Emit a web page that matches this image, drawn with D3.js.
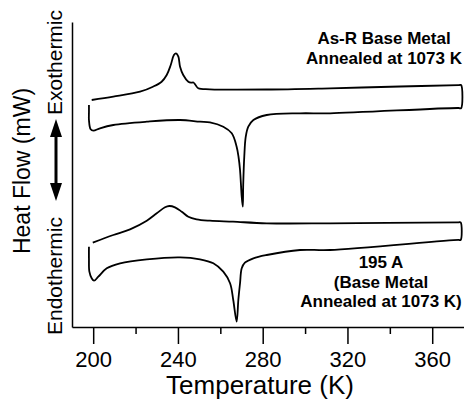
<!DOCTYPE html>
<html>
<head>
<meta charset="utf-8">
<script src="https://cdn.jsdelivr.net/npm/d3@7"></script>
<style>
  body { margin: 0; background: #fff; }
  text { font-family: "Liberation Sans", Arial, sans-serif; fill: #000; }
</style>
</head>
<body>
<div id="chart"></div>
<script>
// DSC traces, [temperature (K), heat flow (a.u., shifted)]
// As-R base metal annealed at 1073 K : upper branch (exo peak), then lower branch (endo dip)
const asrUpper = [
  [199.3, 22.7], [209.5, 23.03], [222.1, 23.53], [228.2, 24.03], [232.3, 24.53],
  [234.7, 25.2], [236.6, 26.2], [238.1, 27.2], [239.1, 27.37], [240.2, 27.03],
  [241.0, 26.03], [242.5, 25.2], [244.9, 24.53], [246.2, 24.43], [247.3, 24.45],
  [248.3, 24.2], [249.6, 23.87], [255.1, 23.77], [281.9, 23.75], [311.8, 23.87],
  [344.8, 24.05], [372.5, 24.19], [373.6, 24.2]
];
const asrLower = [
  [373.6, 21.87], [372.5, 21.9], [311.8, 21.37], [297.6, 21.37], [281.9, 21.2],
  [275.6, 20.7], [273.2, 20.03], [272.0, 19.03], [271.3, 17.03], [270.8, 14.2],
  [270.6, 12.03], [270.1, 13.03], [269.3, 15.7], [268.6, 17.0], [267.7, 18.03],
  [265.4, 19.37], [261.4, 20.03], [255.1, 20.47], [250.4, 20.53], [241.0, 20.7],
  [225.3, 20.53], [209.5, 20.2], [203.2, 19.87], [200.1, 19.63], [198.8, 19.77],
  [198.0, 20.7], [198.0, 21.5], [198.0, 22.2]
];
// 195 A (base metal annealed at 1073 K)
const a195Upper = [
  [199.8, 8.43], [209.5, 9.2], [217.4, 9.77], [225.3, 10.63], [230.0, 11.37],
  [233.9, 11.97], [235.9, 12.1], [238.6, 11.97], [241.8, 11.53], [244.9, 11.03],
  [248.8, 10.77], [255.1, 10.63], [266.0, 10.53], [281.9, 10.37], [311.8, 10.37],
  [372.4, 10.47], [373.4, 10.47]
];
const a195Lower = [
  [373.4, 8.7], [372.4, 8.72], [311.8, 7.7], [297.6, 7.7], [281.9, 7.2],
  [275.6, 6.87], [271.6, 6.43], [270.1, 5.87], [269.3, 4.37], [268.5, 2.7],
  [267.7, 0.53], [266.1, 2.7], [264.6, 4.37], [261.4, 5.53], [256.7, 6.37],
  [250.4, 6.77], [241.0, 6.97], [225.3, 6.77], [212.7, 6.37], [206.4, 5.87],
  [202.4, 5.03], [200.4, 4.63], [199.3, 4.87], [198.2, 5.53], [198.0, 6.8], [198.0, 8.03]
];

const xTicks = [200, 240, 280, 320, 360];
const xMinorTicks = [220, 260, 300, 340];
const labelAsr = ["As-R Base Metal", "Annealed at 1073 K"];
const label195 = ["195 A", "(Base Metal", "Annealed at 1073 K)"];

const width = 464, height = 407;
const margin = {top: 22, right: 0, bottom: 80, left: 72};

const x = d3.scaleLinear().domain([190, 375]).range([margin.left, width - margin.right]);
const y = d3.scaleLinear().domain([0, 30.5]).range([height - margin.bottom, margin.top]);

const svg = d3.select("#chart").append("svg")
    .attr("width", width)
    .attr("height", height)
    .attr("viewBox", [0, 0, width, height]);

// x axis: labelled major ticks, short minor ticks
svg.append("g")
    .attr("transform", `translate(0,${y(0)})`)
    .call(d3.axisBottom(x).tickValues(xMinorTicks).tickSize(7).tickFormat(""))
    .call(g => g.select(".domain").remove())
    .call(g => g.selectAll(".tick line").attr("stroke-width", 1.5));

svg.append("g")
    .attr("transform", `translate(0,${y(0)})`)
    .call(d3.axisBottom(x).tickValues(xTicks).tickSize(17).tickSizeOuter(0).tickPadding(7))
    .call(g => g.selectAll("path, line").attr("stroke-width", 1.5))
    .call(g => g.selectAll(".tick text").attr("font-size", 22).attr("font-family", null));

// y axis: plain line, no ticks
svg.append("g")
    .attr("transform", `translate(${margin.left},0)`)
    .call(d3.axisLeft(y).tickValues([]).tickSizeOuter(0))
    .call(g => g.select(".domain").attr("stroke-width", 1.5));

svg.append("text")
    .attr("x", (margin.left + width) / 2 - 8)
    .attr("y", 394)
    .attr("text-anchor", "middle")
    .attr("font-size", 26)
    .text("Temperature (K)");

// y title
svg.append("text")
    .attr("transform", "translate(30,171) rotate(-90)")
    .attr("text-anchor", "middle")
    .attr("font-size", 23)
    .text("Heat Flow (mW)");

svg.append("text")
    .attr("transform", "translate(62,335) rotate(-90)")
    .attr("text-anchor", "start")
    .attr("font-size", 21)
    .text("Endothermic");

svg.append("text")
    .attr("transform", "translate(62,115) rotate(-90)")
    .attr("text-anchor", "start")
    .attr("font-size", 21)
    .text("Exothermic");

// double arrow between the two words
const ax = 56, aTop = 119, aBot = 201, head = 18, hw = 6;
svg.append("path")
    .attr("d", `M${ax},${aTop}L${ax + hw},${aTop + head}L${ax - hw},${aTop + head}Z` +
               `M${ax},${aBot}L${ax + hw},${aBot - head}L${ax - hw},${aBot - head}Z`)
    .attr("fill", "#000");
svg.append("line")
    .attr("x1", ax).attr("x2", ax)
    .attr("y1", aTop + head - 1).attr("y2", aBot - head + 1)
    .attr("stroke", "#000").attr("stroke-width", 3);

// traces
const line = d3.line()
    .x(d => x(d[0]))
    .y(d => y(d[1]))
    .curve(d3.curveCatmullRom.alpha(0.5));

[asrUpper.concat(asrLower), a195Upper.concat(a195Lower)].forEach(trace => {
  svg.append("path")
      .datum(trace)
      .attr("fill", "none")
      .attr("stroke", "#000")
      .attr("stroke-width", 1.8)
      .attr("stroke-linejoin", "round")
      .attr("d", line);
});

// annotations
svg.append("text")
    .attr("x", 384).attr("y", 43.5)
    .attr("text-anchor", "middle")
    .attr("font-size", 17).attr("font-weight", "bold")
  .selectAll("tspan")
  .data(labelAsr)
  .join("tspan")
    .attr("x", 384)
    .attr("dy", (d, i) => i ? 20.5 : 0)
    .text(d => d);

svg.append("text")
    .attr("x", 381).attr("y", 268)
    .attr("text-anchor", "middle")
    .attr("font-size", 17).attr("font-weight", "bold")
  .selectAll("tspan")
  .data(label195)
  .join("tspan")
    .attr("x", 381)
    .attr("dy", (d, i) => i ? 19.5 : 0)
    .text(d => d);
</script>
</body>
</html>
